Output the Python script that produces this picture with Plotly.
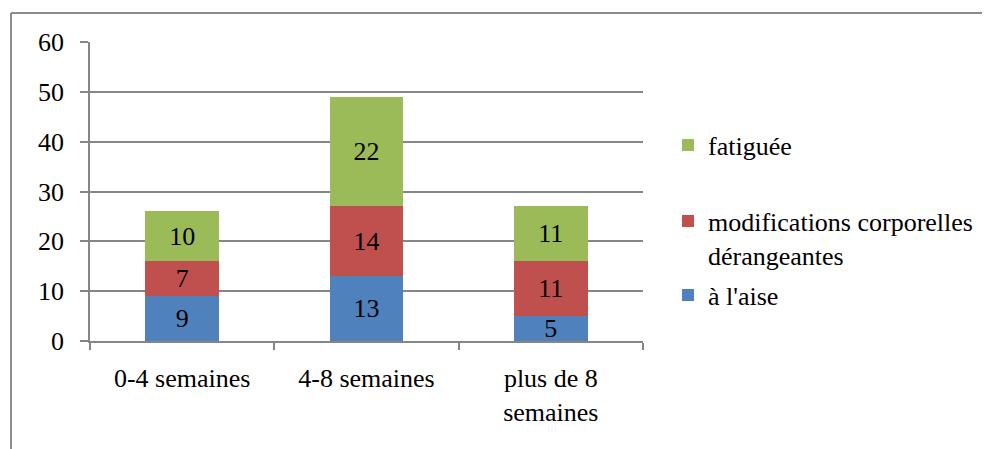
import plotly.graph_objects as go

categories = ["0-4 semaines", "4-8 semaines", "plus de 8<br>semaines"]
a_laise = [9, 13, 5]
modifications = [7, 14, 11]
fatiguee = [10, 22, 11]
series_names = ["à l'aise", "modifications corporelles<br>dérangeantes", "fatiguée"]
colors = ["#4F81BD", "#C0504D", "#9BBB59"]
legend_ids = ["legend3", "legend2", "legend"]

FONT = "Times New Roman"
FS = 26
OFF = 8  # page body margin
W, H = 990 - OFF, 449 - OFF
L, R, T, B = 90 - OFF, 643 - OFF, 42 - OFF, 341 - OFF

def px(x):
    return (x - OFF - L) / (R - L)
def py(y):
    return (B - (y - OFF)) / (B - T)

fig = go.Figure()
for name, vals, col, lg in zip(series_names, [a_laise, modifications, fatiguee], colors, legend_ids):
    fig.add_trace(go.Bar(
        x=categories, y=vals, name=name, marker=dict(color=col, line=dict(width=0)),
        text=[str(v) for v in vals], textposition="inside", insidetextanchor="middle",
        textfont=dict(family=FONT, size=FS, color="black"),
        textangle=0, constraintext="none", legend=lg, showlegend=True,
    ))

def leg(xpage, ypage):
    return dict(x=px(xpage), y=py(ypage), xanchor="left", yanchor="middle",
                font=dict(family=FONT, size=FS, color="black"), valign="top",
                bgcolor="rgba(0,0,0,0)", itemwidth=30, visible=True)

fig.update_layout(
    width=W, height=H, barmode="stack", bargap=0.6, showlegend=True,
    margin=dict(l=L, r=W - R, t=T, b=H - B, autoexpand=False),
    paper_bgcolor="white", plot_bgcolor="white",
    font=dict(family=FONT, size=FS, color="black"),
    legend=leg(668, 145),
    legend2=leg(668, 238),
    legend3=leg(668, 295),
    yaxis=dict(range=[0, 60], dtick=10, showgrid=True, gridcolor="#868686", gridwidth=1.5,
               showline=True, linecolor="#868686", linewidth=1.5,
               ticks="outside", ticklen=8, tickcolor="#868686", tickwidth=1.5,
               zeroline=False, tickfont=dict(family=FONT, size=FS), ticklabelstandoff=11),
    xaxis=dict(showline=True, linecolor="#868686", linewidth=1.5,
               ticks="outside", ticklen=7, tickcolor="#868686", tickwidth=1.5,
               tickson="boundaries", showgrid=False,
               tickfont=dict(family=FONT, size=FS), ticklabelstandoff=13),
    shapes=[
        dict(type="line", xref="paper", yref="paper", x0=px(11), x1=px(11), y0=py(13), y1=py(470),
             line=dict(color="#8c8c8c", width=2)),
        dict(type="line", xref="paper", yref="paper", x0=px(11), x1=px(1000), y0=py(13), y1=py(13),
             line=dict(color="#8c8c8c", width=2)),
    ],
)
fig.write_html("out.html")
